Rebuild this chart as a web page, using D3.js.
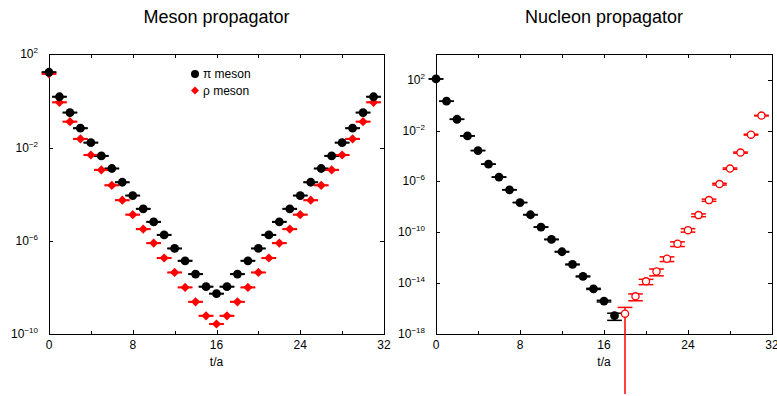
<!DOCTYPE html>
<html lang="en">
<head>
  <meta charset="UTF-8">
  <title>Meson and nucleon propagators</title>
  <script src="https://d3js.org/d3.v7.min.js"></script>
  <style>
    body {
      margin: 0;
      background: #fff;
    }
    svg {
      display: block;
      font-family: "Liberation Sans", Arial, sans-serif;
    }
    .axis path,
    .axis line {
      fill: none;
      stroke: #000;
      shape-rendering: crispEdges;
    }
  </style>
</head>
<body>
  <div id="chart"></div>

  <script>
    // timeslices t/a
    const mesonT = [0, 1, 2, 3, 4, 5, 6, 7, 8, 9, 10, 11, 12, 13, 14, 15,
                    16, 17, 18, 19, 20, 21, 22, 23, 24, 25, 26, 27, 28, 29, 30, 31];
    const pion = [17.0, 1.51, 0.316, 0.0676, 0.0162, 4.37e-3, 1.26e-3, 3.24e-4,
                  8.71e-5, 2.34e-5, 6.46e-6, 1.78e-6, 4.68e-7, 1.38e-7, 3.72e-8, 1.07e-8,
                  5.37e-9, 1.07e-8, 3.72e-8, 1.38e-7, 4.68e-7, 1.78e-6, 6.46e-6, 2.34e-5,
                  8.71e-5, 3.24e-4, 1.26e-3, 4.37e-3, 0.0162, 0.0676, 0.316, 1.51];
    const rho = [14.5, 0.871, 0.129, 0.0234, 4.79e-3, 1.10e-3, 2.40e-4, 5.50e-5,
                 1.32e-5, 3.16e-6, 7.94e-7, 1.82e-7, 4.37e-8, 1.00e-8, 2.40e-9, 6.03e-10,
                 2.69e-10, 6.03e-10, 2.40e-9, 1.00e-8, 4.37e-8, 1.82e-7, 7.94e-7, 3.16e-6,
                 1.32e-5, 5.50e-5, 2.40e-4, 1.10e-3, 4.79e-3, 0.0234, 0.129, 0.871];

    const nucleonFwdT = [0, 1, 2, 3, 4, 5, 6, 7, 8, 9, 10, 11, 12, 13, 14, 15, 16, 17];
    const nucleonFwd = [115, 2.04, 0.0776, 3.80e-3, 2.69e-4, 2.29e-5, 2.19e-6, 2.19e-7,
                        2.19e-8, 2.40e-9, 2.57e-10, 2.75e-11, 2.95e-12, 2.95e-13, 3.39e-14,
                        3.55e-15, 3.89e-16, 2.75e-17];
    const nucleonFwdErr = [0.02, 0.02, 0.02, 0.02, 0.02, 0.02, 0.03, 0.03,
                           0.03, 0.04, 0.04, 0.05, 0.06, 0.07, 0.08, 0.1, 0.15, 0.57];

    const nucleonBwdT = [18, 19, 20, 21, 22, 23, 24, 25, 26, 27, 28, 29, 30, 31];
    const nucleonBwd = [3.98e-17, 9.12e-16, 1.38e-14, 8.32e-14, 8.32e-13, 1.26e-11, 1.48e-10,
                        2.24e-9, 3.39e-8, 6.17e-7, 1.02e-5, 1.86e-4, 4.79e-3, 0.151];
    const nucleonBwdErr = [2.1, 0.55, 0.45, 0.55, 0.4, 0.4, 0.3, 0.25, 0.2, 0.15, 0.12, 0.1, 0.08, 0.06];

    const xTicks = [0, 8, 16, 24, 32];
    const xMinorTicks = [4, 12, 20, 28];
    const mesonYTicks = [2, -2, -6, -10];
    const nucleonYTicks = [2, -2, -6, -10, -14, -18];

    const W = 777, H = 396;
    const plotTop = 54.3, plotBottom = 334;
    const capHalf = 0.7;   // half width of error caps in t/a

    const svg = d3.select("#chart").append("svg")
      .attr("width", W)
      .attr("height", H);

    function sup(n) {
      return n < 0 ? "\u2212" + Math.abs(n) : String(n);
    }

    function drawFrame(x, y, yTicks, title) {
      const [x0, x1] = x.range();
      const g = svg.append("g");

      // bottom / top axes with inward ticks
      g.append("g").attr("class", "axis")
        .attr("transform", `translate(0,${plotBottom})`)
        .call(d3.axisBottom(x).tickValues(xTicks).tickSizeInner(-4).tickSizeOuter(0).tickFormat(""));
      g.append("g").attr("class", "axis")
        .attr("transform", `translate(0,${plotBottom})`)
        .call(d3.axisBottom(x).tickValues(xMinorTicks).tickSizeInner(-3).tickSizeOuter(0).tickFormat(""))
        .select("path").remove();
      g.append("g").attr("class", "axis")
        .attr("transform", `translate(0,${plotTop})`)
        .call(d3.axisTop(x).tickValues(xTicks.concat(xMinorTicks)).tickSizeInner(-4).tickSizeOuter(0).tickFormat(""));

      const yv = yTicks.map(p => Math.pow(10, p));
      g.append("g").attr("class", "axis")
        .attr("transform", `translate(${x0},0)`)
        .call(d3.axisLeft(y).tickValues(yv).tickSizeInner(-4).tickSizeOuter(0).tickFormat(""));
      g.append("g").attr("class", "axis")
        .attr("transform", `translate(${x1},0)`)
        .call(d3.axisRight(y).tickValues(yv).tickSizeInner(-4).tickSizeOuter(0).tickFormat(""));

      // x tick labels
      g.selectAll(".xl").data(xTicks).enter().append("text")
        .attr("x", d => x(d))
        .attr("y", plotBottom + 15)
        .attr("text-anchor", "middle")
        .style("font-size", "12px")
        .text(d => d);

      // y tick labels 10^n
      const yl = g.selectAll(".yl").data(yTicks).enter().append("text")
        .attr("x", x0 - 11)
        .attr("y", d => y(Math.pow(10, d)) + 4)
        .attr("text-anchor", "end")
        .style("font-size", "12px");
      yl.append("tspan").text("10");
      yl.append("tspan").attr("dy", -5).style("font-size", "8px").text(d => sup(d));

      g.append("text")
        .attr("x", (x0 + x1) / 2)
        .attr("y", 366)
        .attr("text-anchor", "middle")
        .style("font-size", "12px")
        .text("t/a");

      g.append("text")
        .attr("x", (x0 + x1) / 2)
        .attr("y", 23)
        .attr("text-anchor", "middle")
        .style("font-size", "18px")
        .text(title);
    }

    function drawErrors(g, x, y, ts, vals, errs, color) {
      const data = ts.map((t, i) => ({ t: t, v: vals[i], e: errs[i] * vals[i] }));
      const bars = g.selectAll(null).data(data).enter().append("g")
        .attr("stroke", color)
        .attr("stroke-width", 1.5)
        .attr("fill", "none");
      const yLo = d => d.v - d.e > 0 ? y(d.v - d.e) : H - 2;
      bars.append("line")
        .attr("x1", d => x(d.t)).attr("x2", d => x(d.t))
        .attr("y1", d => y(d.v + d.e)).attr("y2", yLo);
      bars.append("line")
        .attr("x1", d => x(d.t - capHalf)).attr("x2", d => x(d.t + capHalf))
        .attr("y1", d => y(d.v + d.e)).attr("y2", d => y(d.v + d.e));
      bars.filter(d => d.v - d.e > 0).append("line")
        .attr("x1", d => x(d.t - capHalf)).attr("x2", d => x(d.t + capHalf))
        .attr("y1", d => y(d.v - d.e)).attr("y2", d => y(d.v - d.e));
    }

    const diamond = "M0,-4.6L4.6,0L0,4.6L-4.6,0Z";

    // ---- Meson propagator ----
    const xL = d3.scaleLinear().domain([0, 32]).range([49, 384]);
    const yL = d3.scaleLog().domain([1e-10, 1e2]).range([plotBottom, plotTop]);
    drawFrame(xL, yL, mesonYTicks, "Meson propagator");

    const gL = svg.append("g");
    const smallErr = mesonT.map(() => 0.03);
    drawErrors(gL, xL, yL, mesonT, pion, smallErr, "#000");
    drawErrors(gL, xL, yL, mesonT, rho, smallErr, "#ff0000");

    gL.selectAll(".rho").data(mesonT).enter().append("path")
      .attr("d", diamond)
      .attr("transform", (t, i) => `translate(${xL(t)},${yL(rho[i])})`)
      .attr("fill", "#ff0000");
    gL.selectAll(".pion").data(mesonT).enter().append("circle")
      .attr("cx", t => xL(t))
      .attr("cy", (t, i) => yL(pion[i]))
      .attr("r", 4.4)
      .attr("fill", "#000");

    // legend
    const leg = svg.append("g").style("font-size", "12px");
    leg.append("circle").attr("cx", 195).attr("cy", 74).attr("r", 4).attr("fill", "#000");
    leg.append("text").attr("x", 203).attr("y", 78).text("\u03c0 meson");
    leg.append("path").attr("d", "M0,-4L4,0L0,4L-4,0Z")
      .attr("transform", "translate(195,90.5)").attr("fill", "#ff0000");
    leg.append("text").attr("x", 203).attr("y", 94.5).text("\u03c1 meson");

    // ---- Nucleon propagator ----
    const xR = d3.scaleLinear().domain([0, 32]).range([436, 772]);
    const yR = d3.scaleLog().domain([1e-18, 1e4]).range([plotBottom, plotTop]);
    drawFrame(xR, yR, nucleonYTicks, "Nucleon propagator");

    const gR = svg.append("g");
    drawErrors(gR, xR, yR, nucleonFwdT, nucleonFwd, nucleonFwdErr, "#000");
    drawErrors(gR, xR, yR, nucleonBwdT, nucleonBwd, nucleonBwdErr, "#ff0000");

    gR.selectAll(".fwd").data(nucleonFwdT).enter().append("circle")
      .attr("cx", t => xR(t))
      .attr("cy", (t, i) => yR(nucleonFwd[i]))
      .attr("r", 4.4)
      .attr("fill", "#000");
    gR.selectAll(".bwd").data(nucleonBwdT).enter().append("circle")
      .attr("cx", t => xR(t))
      .attr("cy", (t, i) => yR(nucleonBwd[i]))
      .attr("r", 3.6)
      .attr("fill", "#fff")
      .attr("stroke", "#ff0000")
      .attr("stroke-width", 1.3);
  </script>
</body>
</html>
